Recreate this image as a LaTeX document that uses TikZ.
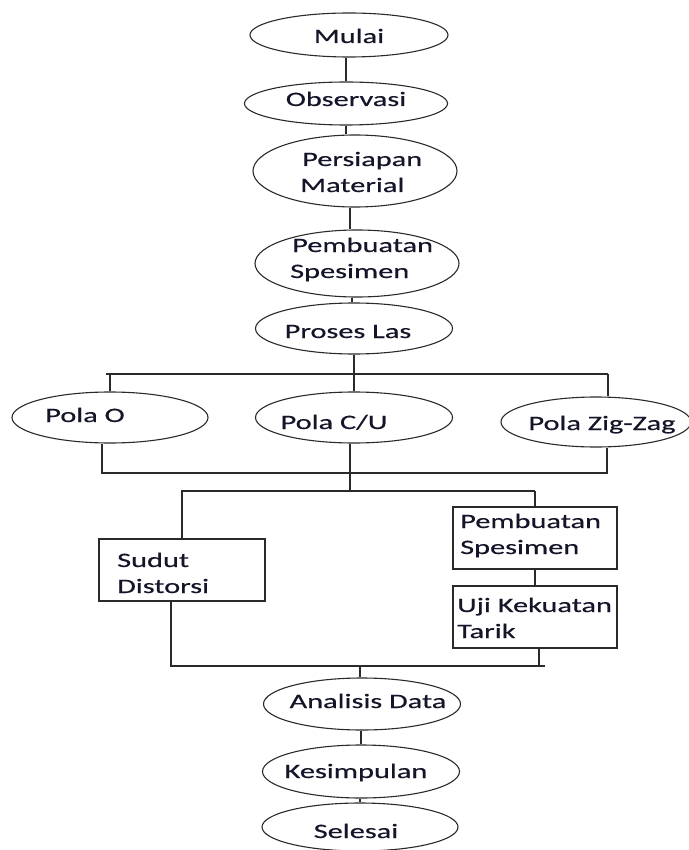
\documentclass[tikz,border=0pt]{standalone}
\usepackage{fontspec}
\setmainfont{Carlito}[FakeStretch=1.48,FakeBold=0.5]
\usetikzlibrary{shapes.geometric,calc}
\definecolor{ln}{HTML}{2A2A2A}
\definecolor{tx}{HTML}{15152A}
\tikzset{
  ell/.style={draw=ln, line width=1.1pt, ellipse, inner sep=0pt},
  boxnode/.style={draw=ln, line width=1.3pt, rectangle, inner sep=0pt},
  txt/.style={text=tx, inner sep=0pt, font=\fontsize{20.5}{26}\selectfont, align=left},
  conn/.style={draw=ln, line width=1.1pt}
}
\begin{document}
\begin{tikzpicture}[x=1pt,y=-1pt]
\useasboundingbox (0,0) rectangle (688,850);
% ellipses
\node[ell, minimum width=198pt, minimum height=44pt] (mulai) at (349,35) {};
\node[ell, minimum width=203pt, minimum height=43pt] (obs) at (346,103.5) {};
\node[ell, minimum width=204pt, minimum height=72pt] (pers) at (355,171) {};
\node[ell, minimum width=204pt, minimum height=67pt] (pemb) at (357,263.5) {};
\node[ell, minimum width=197pt, minimum height=51pt] (proses) at (354,328.5) {};
\node[ell, minimum width=196pt, minimum height=51pt] (polaO) at (110,417.5) {};
\node[ell, minimum width=197pt, minimum height=51pt] (polaCU) at (354,417.5) {};
\node[ell, minimum width=190pt, minimum height=50pt] (polaZ) at (596,422) {};
\node[ell, minimum width=197pt, minimum height=52pt] (anal) at (362,704) {};
\node[ell, minimum width=197pt, minimum height=53pt] (kes) at (361,771.5) {};
\node[ell, minimum width=196pt, minimum height=48pt] (sel) at (360,827) {};
% boxes
\node[boxnode, minimum width=166pt, minimum height=62pt] (sudut) at (182,570) {};
\node[boxnode, minimum width=164pt, minimum height=62pt] (box1) at (535,538) {};
\node[boxnode, minimum width=164pt, minimum height=62pt] (box2) at (535,617) {};
% texts (multi-line nodes: base anchor sits on the last line)
\node[txt, anchor=base] (tMulai) at (349,43) {Mulai};
\node[txt, anchor=base] (tObs) at (346,106) {Observasi};
\node[txt, anchor=base west] (tPers) at (300,192) {\hspace*{2pt}Persiapan\\Material};
\node[txt, anchor=base west] (tPemb) at (290,278) {\hspace*{2pt}Pembuatan\\Spesimen};
\node[txt, anchor=base] (tProses) at (348,338) {Proses Las};
\node[txt, anchor=base] (tPolaO) at (85,422) {Pola O};
\node[txt, anchor=base] (tPolaCU) at (334,429) {Pola C/U};
\node[txt, anchor=base] (tPolaZ) at (602,430) {Pola Zig-Zag};
\node[txt, anchor=base west] (tSudut) at (117,593) {Sudut\\Distorsi};
\node[txt, anchor=base west] (tBox1) at (460,554) {Pembuatan\\Spesimen};
\node[txt, anchor=base west] (tBox2) at (457,638) {Uji Kekuatan\\Tarik};
\node[txt, anchor=base] (tAnal) at (368,708) {Analisis Data};
\node[txt, anchor=base] (tKes) at (356,778) {Kesimpulan};
\node[txt, anchor=base] (tSel) at (356,838) {Selesai};
% junction coordinates
\coordinate (c3) at (350,207);
\coordinate (c4) at (352,297);
\coordinate (hL) at (106,374);
\coordinate (hR) at (608,374);
\coordinate (jL) at (102,473);
\coordinate (jR) at (607,473);
\coordinate (jC) at (350,491);
\coordinate (kL) at (181,491);
\coordinate (kR) at (535,491);
\coordinate (mL) at (171,666);
\coordinate (mB) at (539,666);
\coordinate (mE) at (545,666);
\coordinate (mC) at (360,666);
% connectors
\draw[conn] (obs.north) -- (obs.north |- mulai.south);
\draw[conn] (obs.south) -- (obs.south |- pers.north);
\draw[conn] (c3 |- pers.south) -- (c3 |- pemb.north);
\draw[conn] (c4 |- pemb.south) -- (c4 |- proses.north);
\draw[conn] (proses.south) -- (proses.south |- hL);
\draw[conn] (hL) -- (hR);
\draw[conn] (polaO.north) -- (polaO.north |- hL);
\draw[conn] (polaCU.north) -- (polaCU.north |- hL);
\draw[conn] (hR) -- (hR |- polaZ.north);
\draw[conn] (polaO.south -| jL) -- (jL) -- (jR) -- (jR |- polaZ.south);
\draw[conn] (polaCU.south -| jC) -- (jC);
\draw[conn] (kL) -- (kR);
\draw[conn] (sudut.north) -- (sudut.north |- kL);
\draw[conn] (box1.north) -- (box1.north |- kR);
\draw[conn] (box1.south) -- (box2.north);
\draw[conn] (sudut.south -| mL) -- (mL) -- (mE);
\draw[conn] (box2.south -| mB) -- (mB);
\draw[conn] (mC) -- (mC |- anal.north);
\draw[conn] (kes.north) -- (kes.north |- anal.south);
\draw[conn] (sel.north) -- (sel.north |- kes.south);
\end{tikzpicture}
\end{document}
